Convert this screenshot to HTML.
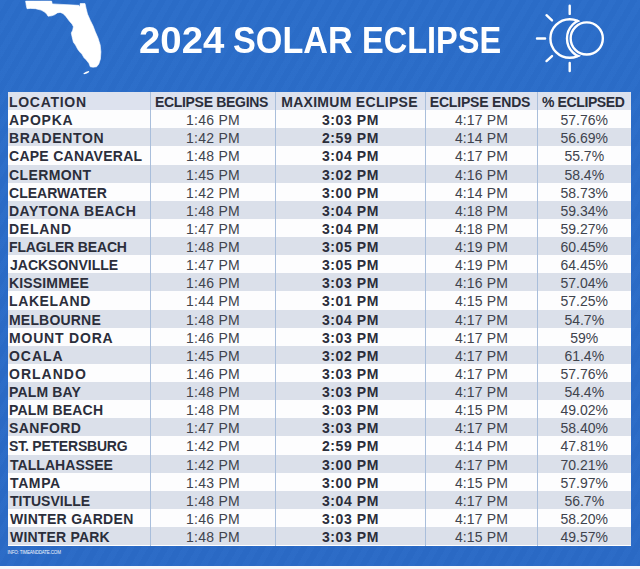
<!DOCTYPE html>
<html><head><meta charset="utf-8"><title>2024 Solar Eclipse</title>
<style>
html,body{margin:0;padding:0;}
body{width:640px;height:569px;overflow:hidden;position:relative;background:#2a6bc8;font-family:"Liberation Sans",sans-serif;}
#bg{position:absolute;left:0;top:0;width:640px;height:566px;background:
 repeating-linear-gradient(120deg, rgba(255,255,255,0.012) 0 6px, rgba(0,0,0,0.012) 6px 12px), linear-gradient(180deg,#2b6dc9 0%,#2a6ac6 100%);}
#strip{position:absolute;left:0;top:566px;width:640px;height:3px;background:#f4f6fa;}
.tw{position:absolute;top:19.7px;height:42px;line-height:42px;font-size:36px;font-weight:bold;color:#fff;white-space:nowrap;transform-origin:0 50%;}
#title{position:absolute;left:141px;top:19px;height:42px;line-height:42px;font-size:36px;font-weight:bold;color:#fff;white-space:nowrap;transform-origin:0 50%;transform:scaleX(0.945);letter-spacing:0;}
#fl{position:absolute;left:0;top:0;}
#sun{position:absolute;left:520px;top:0;}
#tbl{position:absolute;left:8px;top:92px;width:623px;height:453.5px;background:#fff;overflow:hidden;}
.r{position:relative;height:18.14px;width:623px;}
.r.w{background:#fdfdfe;}
.r.g{background:#dbe0ea;}
.r.h{background:#dde2ee;}
.c{position:absolute;top:0;height:18.14px;line-height:18.14px;font-size:14px;color:#40434d;white-space:nowrap;box-sizing:border-box;}
.c span{display:inline-block;position:relative;top:1px;}
.c2 span{letter-spacing:0.29px;}
.c3 span{letter-spacing:0.6px;}
.c4 span{letter-spacing:0.15px;}
.b{font-weight:bold;color:#2b2e3b;}
.c1{left:0;width:142px;padding-left:1px;text-align:left;}
.c2{left:142.5px;width:125px;text-align:center;}
.c3{left:267.5px;width:150px;text-align:center;}
.c4{left:417.5px;width:112px;text-align:center;}
.c5{left:529.5px;width:93.5px;text-align:center;}
.v{position:absolute;top:0;width:1px;height:453.5px;background:#a9bedb;}
#info{position:absolute;left:7.5px;top:549.6px;font-size:4.5px;line-height:5px;color:#f2f6fd;letter-spacing:-0.17px;white-space:nowrap;}
</style></head><body>
<div id="bg"></div>
<svg id="fl" width="160" height="100" viewBox="0 0 160 100"><path fill="#fff" stroke="#fff" stroke-width="0.6" stroke-linejoin="round" d="M25.6 1.1 L51.6 1.1 L52.3 3.9 L78.8 5.3 L79.8 7.0 L80.2 3.5 L85.0 3.5 L86.1 8.4 L87.5 14.1 L90.3 20.4 L93.1 26.0 L95.2 31.6 L98.0 38.0 L100.2 45.0 L100.9 52.0 L100.4 59.1 L98.8 64.0 L96.6 66.8 L93.1 67.2 L90.3 66.8 L88.9 63.3 L86.1 59.8 L84.0 57.7 L81.9 54.1 L79.8 52.0 L77.7 49.2 L75.5 45.0 L73.4 42.2 L72.7 39.4 L72.0 36.6 L71.3 33.0 L72.7 30.2 L73.4 26.7 L72.0 23.9 L69.9 21.8 L67.8 19.0 L65.7 16.2 L62.9 13.4 L60.1 12.4 L57.3 12.9 L54.5 14.8 L51.6 15.8 L48.1 16.2 L46.7 14.1 L44.6 12.0 L41.1 10.1 L35.5 8.7 L30.5 8.4 L27.0 8.7 L26.3 5.6 Z"/><path fill="#fff" d="M83.3 73.4 L86.1 71.7 L88.9 71.0 L89.2 72.0 L86.8 73.4 L84.0 74.2 Z"/></svg>
<svg id="sun" width="120" height="90" viewBox="0 0 120 90"><defs><mask id="m1" maskUnits="userSpaceOnUse" x="0" y="0" width="120" height="90"><rect x="0" y="0" width="120" height="90" fill="#fff"/><circle cx="66.75" cy="38.45" r="18.55" fill="#000"/></mask><clipPath id="c1"><circle cx="49.7" cy="38.5" r="20.4"/></clipPath></defs>
<g fill="none" stroke="#fff" stroke-width="2.4" stroke-linecap="round">
<circle cx="49.7" cy="38.5" r="19.3" mask="url(#m1)"/>
<circle cx="66.75" cy="38.45" r="19.75" clip-path="url(#c1)"/>
<circle cx="66.75" cy="38.45" r="16.1"/>
<path d="M49.7 5.8V13.9M49.7 63V71.1M17 38.5H25.1M26.5 15.2L32 20.4M26.5 61.1L32 56.1"/>
</g></svg>
<div class="tw" id="t1" style="left:139.2px;transform:scaleX(1.065)">2024</div><div class="tw" id="t2" style="left:233.2px;transform:scaleX(0.95)">SOLAR</div><div class="tw" id="t3" style="left:361.6px;transform:scaleX(0.903)">ECLIPSE</div>
<div id="tbl">
<div class="r h"><div class="c c1 b"><span style="letter-spacing:0.71px">LOCATION</span></div><div class="c c2 b"><span style="letter-spacing:-0.31px;left:-1.5px">ECLIPSE BEGINS</span></div><div class="c c3 b"><span style="letter-spacing:0.29px;left:-1px">MAXIMUM ECLIPSE</span></div><div class="c c4 b"><span style="letter-spacing:-0.18px;left:-1.5px">ECLIPSE ENDS</span></div><div class="c c5 b"><span style="letter-spacing:-0.39px;left:-1px">% ECLIPSED</span></div></div>
<div class="r w"><div class="c c1 b"><span style="letter-spacing:0.75px">APOPKA</span></div><div class="c c2"><span>1:46 PM</span></div><div class="c c3 b"><span>3:03 PM</span></div><div class="c c4"><span>4:17 PM</span></div><div class="c c5"><span>57.76%</span></div></div>
<div class="r g"><div class="c c1 b"><span style="letter-spacing:0.69px">BRADENTON</span></div><div class="c c2"><span>1:42 PM</span></div><div class="c c3 b"><span>2:59 PM</span></div><div class="c c4"><span>4:14 PM</span></div><div class="c c5"><span>56.69%</span></div></div>
<div class="r w"><div class="c c1 b"><span style="letter-spacing:0.27px">CAPE CANAVERAL</span></div><div class="c c2"><span>1:48 PM</span></div><div class="c c3 b"><span>3:04 PM</span></div><div class="c c4"><span>4:17 PM</span></div><div class="c c5"><span>55.7%</span></div></div>
<div class="r g"><div class="c c1 b"><span style="letter-spacing:0.39px">CLERMONT</span></div><div class="c c2"><span>1:45 PM</span></div><div class="c c3 b"><span>3:02 PM</span></div><div class="c c4"><span>4:16 PM</span></div><div class="c c5"><span>58.4%</span></div></div>
<div class="r w"><div class="c c1 b"><span style="letter-spacing:0.03px">CLEARWATER</span></div><div class="c c2"><span>1:42 PM</span></div><div class="c c3 b"><span>3:00 PM</span></div><div class="c c4"><span>4:14 PM</span></div><div class="c c5"><span>58.73%</span></div></div>
<div class="r g"><div class="c c1 b"><span style="letter-spacing:0.5px">DAYTONA BEACH</span></div><div class="c c2"><span>1:48 PM</span></div><div class="c c3 b"><span>3:04 PM</span></div><div class="c c4"><span>4:18 PM</span></div><div class="c c5"><span>59.34%</span></div></div>
<div class="r w"><div class="c c1 b"><span style="letter-spacing:0.75px">DELAND</span></div><div class="c c2"><span>1:47 PM</span></div><div class="c c3 b"><span>3:04 PM</span></div><div class="c c4"><span>4:18 PM</span></div><div class="c c5"><span>59.27%</span></div></div>
<div class="r g"><div class="c c1 b"><span style="letter-spacing:-0.15px">FLAGLER BEACH</span></div><div class="c c2"><span>1:48 PM</span></div><div class="c c3 b"><span>3:05 PM</span></div><div class="c c4"><span>4:19 PM</span></div><div class="c c5"><span>60.45%</span></div></div>
<div class="r w"><div class="c c1 b"><span style="letter-spacing:0.0px;left:1px">JACKSONVILLE</span></div><div class="c c2"><span>1:47 PM</span></div><div class="c c3 b"><span>3:05 PM</span></div><div class="c c4"><span>4:19 PM</span></div><div class="c c5"><span>64.45%</span></div></div>
<div class="r g"><div class="c c1 b"><span style="letter-spacing:0.16px">KISSIMMEE</span></div><div class="c c2"><span>1:46 PM</span></div><div class="c c3 b"><span>3:03 PM</span></div><div class="c c4"><span>4:16 PM</span></div><div class="c c5"><span>57.04%</span></div></div>
<div class="r w"><div class="c c1 b"><span style="letter-spacing:0.61px">LAKELAND</span></div><div class="c c2"><span>1:44 PM</span></div><div class="c c3 b"><span>3:01 PM</span></div><div class="c c4"><span>4:15 PM</span></div><div class="c c5"><span>57.25%</span></div></div>
<div class="r g"><div class="c c1 b"><span style="letter-spacing:0.19px">MELBOURNE</span></div><div class="c c2"><span>1:48 PM</span></div><div class="c c3 b"><span>3:04 PM</span></div><div class="c c4"><span>4:17 PM</span></div><div class="c c5"><span>54.7%</span></div></div>
<div class="r w"><div class="c c1 b"><span style="letter-spacing:0.81px">MOUNT DORA</span></div><div class="c c2"><span>1:46 PM</span></div><div class="c c3 b"><span>3:03 PM</span></div><div class="c c4"><span>4:17 PM</span></div><div class="c c5"><span>59%</span></div></div>
<div class="r g"><div class="c c1 b"><span style="letter-spacing:0.94px">OCALA</span></div><div class="c c2"><span>1:45 PM</span></div><div class="c c3 b"><span>3:02 PM</span></div><div class="c c4"><span>4:17 PM</span></div><div class="c c5"><span>61.4%</span></div></div>
<div class="r w"><div class="c c1 b"><span style="letter-spacing:1.0px">ORLANDO</span></div><div class="c c2"><span>1:46 PM</span></div><div class="c c3 b"><span>3:03 PM</span></div><div class="c c4"><span>4:17 PM</span></div><div class="c c5"><span>57.76%</span></div></div>
<div class="r g"><div class="c c1 b"><span style="letter-spacing:0.14px">PALM BAY</span></div><div class="c c2"><span>1:48 PM</span></div><div class="c c3 b"><span>3:03 PM</span></div><div class="c c4"><span>4:17 PM</span></div><div class="c c5"><span>54.4%</span></div></div>
<div class="r w"><div class="c c1 b"><span style="letter-spacing:0.19px">PALM BEACH</span></div><div class="c c2"><span>1:48 PM</span></div><div class="c c3 b"><span>3:03 PM</span></div><div class="c c4"><span>4:15 PM</span></div><div class="c c5"><span>49.02%</span></div></div>
<div class="r g"><div class="c c1 b"><span style="letter-spacing:0.46px">SANFORD</span></div><div class="c c2"><span>1:47 PM</span></div><div class="c c3 b"><span>3:03 PM</span></div><div class="c c4"><span>4:17 PM</span></div><div class="c c5"><span>58.40%</span></div></div>
<div class="r w"><div class="c c1 b"><span style="letter-spacing:-0.21px">ST. PETERSBURG</span></div><div class="c c2"><span>1:42 PM</span></div><div class="c c3 b"><span>2:59 PM</span></div><div class="c c4"><span>4:14 PM</span></div><div class="c c5"><span>47.81%</span></div></div>
<div class="r g"><div class="c c1 b"><span style="letter-spacing:0.05px;left:1px">TALLAHASSEE</span></div><div class="c c2"><span>1:42 PM</span></div><div class="c c3 b"><span>3:00 PM</span></div><div class="c c4"><span>4:17 PM</span></div><div class="c c5"><span>70.21%</span></div></div>
<div class="r w"><div class="c c1 b"><span style="letter-spacing:0.62px;left:1px">TAMPA</span></div><div class="c c2"><span>1:43 PM</span></div><div class="c c3 b"><span>3:00 PM</span></div><div class="c c4"><span>4:15 PM</span></div><div class="c c5"><span>57.97%</span></div></div>
<div class="r g"><div class="c c1 b"><span style="letter-spacing:0.0px;left:1px">TITUSVILLE</span></div><div class="c c2"><span>1:48 PM</span></div><div class="c c3 b"><span>3:04 PM</span></div><div class="c c4"><span>4:17 PM</span></div><div class="c c5"><span>56.7%</span></div></div>
<div class="r w"><div class="c c1 b"><span style="letter-spacing:0.29px;left:1px">WINTER GARDEN</span></div><div class="c c2"><span>1:46 PM</span></div><div class="c c3 b"><span>3:03 PM</span></div><div class="c c4"><span>4:17 PM</span></div><div class="c c5"><span>58.20%</span></div></div>
<div class="r g"><div class="c c1 b"><span style="letter-spacing:0.2px;left:1px">WINTER PARK</span></div><div class="c c2"><span>1:48 PM</span></div><div class="c c3 b"><span>3:03 PM</span></div><div class="c c4"><span>4:15 PM</span></div><div class="c c5"><span>49.57%</span></div></div>
<div class="v" style="left:142px"></div><div class="v" style="left:267px"></div><div class="v" style="left:417px"></div><div class="v" style="left:529px"></div>
</div>
<div id="info">INFO: TIMEANDDATE.COM</div>
<div id="strip"></div>
</body></html>
